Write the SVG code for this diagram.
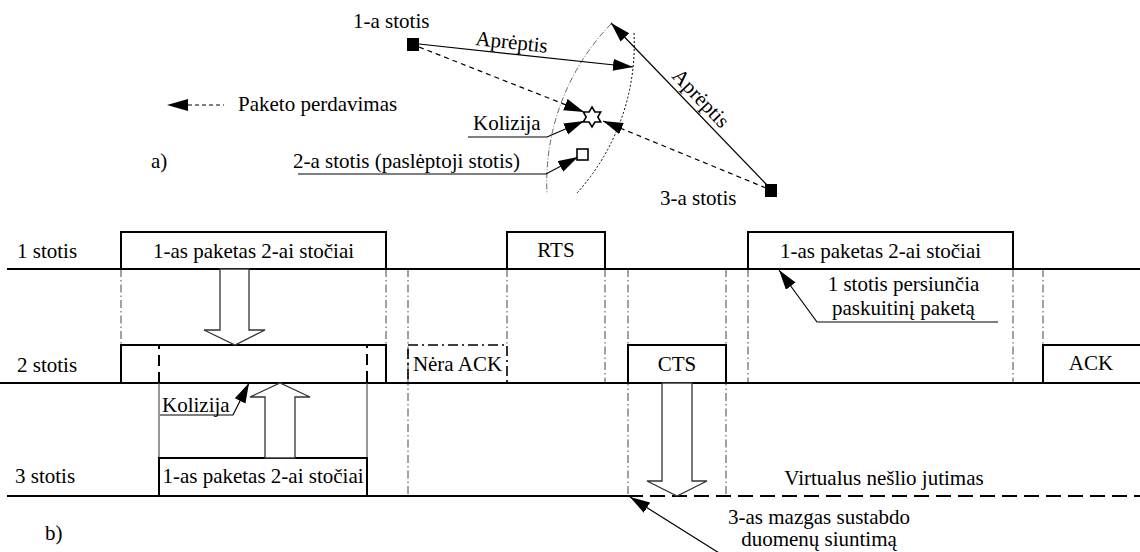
<svg xmlns="http://www.w3.org/2000/svg" width="1140" height="552" viewBox="0 0 1140 552">
  <style>
    .t { font-family: "Liberation Serif", "Times New Roman", serif; font-size: 21px; fill: #000; }
    .tm { text-anchor: middle; }
    .axis { stroke: #000; stroke-width: 2.2; fill: none; }
    .box { stroke: #000; stroke-width: 2; fill: none; }
    .guide { stroke: #444; stroke-width: 1; stroke-dasharray: 8 3 1.5 3; fill: none; }
    .thin { stroke: #000; stroke-width: 1.2; fill: none; }
    .dash { stroke: #000; stroke-width: 1.2; stroke-dasharray: 5 4; fill: none; }
    .hollow { fill: #fff; stroke: #333; stroke-width: 1.3; }
    .arrowTip { stroke: #000; stroke-width: 1.2; fill: none; marker-end: url(#head); }
  </style>
  <defs>
    <marker id="head" markerUnits="userSpaceOnUse" markerWidth="22" markerHeight="14" refX="20" refY="6" orient="auto">
      <path d="M0,0 L20,6 L0,12 z" fill="#000"/>
    </marker>
  </defs>

  <rect width="1140" height="552" fill="#fff"/>

  <!-- Part a): stations and coverage ranges -->
  <g id="range-arcs">
    <path d="M611,24 A228,228 0 0,0 547,194" fill="none" stroke="#555" stroke-width="0.9" stroke-dasharray="6 2 1 2"/>
    <path d="M634,33 A222,222 0 0,1 577,193" fill="none" stroke="#000" stroke-width="1" stroke-dasharray="2 2"/>
  </g>

  <g id="connectors">
    <!-- coverage of station 1 -->
    <line class="arrowTip" x1="419" y1="44" x2="633" y2="67"/>
    <!-- coverage of station 3 -->
    <line class="arrowTip" x1="768" y1="186" x2="611" y2="23"/>
    <!-- packet transmissions meeting at the collision -->
    <line class="dash" x1="419" y1="47" x2="584" y2="112" marker-end="url(#head)"/>
    <line class="dash" x1="766" y1="188" x2="603" y2="121" marker-end="url(#head)"/>
    <!-- label leaders -->
    <polyline class="arrowTip" points="468,137 547,137 584,121"/>
    <polyline class="arrowTip" points="298,174 546,174 578,157"/>

    <!-- Part b): collision and notes -->
    <polyline class="arrowTip" points="160,415 233,415 249,383"/>
    <polyline class="arrowTip" points="998,322 817,322 779,270"/>
    <line class="arrowTip" x1="735" y1="563" x2="630" y2="497"/>
  </g>

  <g id="station1">
    <rect x="407" y="38" width="12" height="13" fill="#000"/>
    <text class="t" x="353" y="28">1-a stotis</text>
  </g>
  <g id="station2">
    <rect x="577" y="149" width="11" height="11" fill="#fff" stroke="#000" stroke-width="1.6"/>
    <text class="t" x="293" y="168">2-a stotis (paslėptoji stotis)</text>
  </g>
  <g id="station3">
    <rect x="765" y="184" width="12" height="13" fill="#000"/>
    <text class="t" x="660" y="205">3-a stotis</text>
  </g>
  <g id="collision">
    <polygon transform="translate(592,117)" points="0,-10 2.9,-5 8.7,-5 5.8,0 8.7,5 2.9,5 0,10 -2.9,5 -8.7,5 -5.8,0 -8.7,-5 -2.9,-5" fill="#fff" stroke="#000" stroke-width="1.6"/>
    <text class="t" x="473" y="130">Kolizija</text>
  </g>
  <g id="range-labels">
    <text class="t" x="475" y="45" transform="rotate(6.2 475 45)">Aprėptis</text>
    <text class="t tm" x="696" y="103" transform="rotate(46.4 696 103)">Aprėptis</text>
  </g>
  <g id="legend">
    <polygon points="167,105 188,99 188,111" fill="#000"/>
    <line x1="188" y1="105" x2="224" y2="105" stroke="#000" stroke-width="1.2" stroke-dasharray="4 3"/>
    <text class="t" x="238" y="111">Paketo perdavimas</text>
  </g>
  <text class="t" x="151" y="168">a)</text>

  <!-- Part b): timelines -->
  <g id="guides">
    <line class="guide" x1="121" y1="269" x2="121" y2="345"/>
    <line class="guide" x1="386" y1="269" x2="386" y2="345"/>
    <line class="guide" x1="408" y1="269" x2="408" y2="496"/>
    <line class="guide" x1="507" y1="269" x2="507" y2="345"/>
    <line class="guide" x1="605" y1="269" x2="605" y2="383"/>
    <line class="guide" x1="628" y1="269" x2="628" y2="496"/>
    <line class="guide" x1="726" y1="269" x2="726" y2="496"/>
    <line class="guide" x1="748" y1="269" x2="748" y2="383"/>
    <line class="guide" x1="1013" y1="269" x2="1013" y2="383"/>
    <line class="guide" x1="1043" y1="269" x2="1043" y2="345"/>
  </g>

  <g id="row1">
    <line class="axis" x1="7" y1="269" x2="1140" y2="269"/>
    <text class="t" x="17" y="258">1 stotis</text>
    <path class="box" d="M121,269 V232 H386 V269"/>
    <text class="t tm" x="253.5" y="258">1-as paketas 2-ai stočiai</text>
    <path class="box" d="M507,269 V232 H605 V269"/>
    <text class="t tm" x="556" y="257">RTS</text>
    <path class="box" d="M748,269 V232 H1013 V269"/>
    <text class="t tm" x="880.5" y="258">1-as paketas 2-ai stočiai</text>
  </g>

  <g id="row2">
    <line class="axis" x1="0" y1="383" x2="1140" y2="383"/>
    <text class="t" x="17" y="372">2 stotis</text>
    <path class="box" d="M121,383 V345 H386 V383"/>
    <path d="M159,383 V345 H367 V383" fill="none" stroke="#000" stroke-width="2" stroke-dasharray="11 6"/>
    <rect x="408" y="345" width="99" height="38" fill="none" stroke="#000" stroke-width="1.6" stroke-dasharray="10 4 2 4"/>
    <text class="t tm" x="457.5" y="371">Nėra ACK</text>
    <path class="box" d="M628,383 V345 H726 V383"/>
    <text class="t tm" x="677" y="371">CTS</text>
    <path class="box" d="M1043,383 V345 H1142"/>
    <text class="t tm" x="1091" y="370">ACK</text>
  </g>

  <g id="row3">
    <line class="axis" x1="7" y1="496" x2="628" y2="496"/>
    <line x1="628" y1="496" x2="1140" y2="496" stroke="#000" stroke-width="2.2" stroke-dasharray="15 7"/>
    <text class="t" x="15" y="483">3 stotis</text>
    <line x1="159" y1="383" x2="159" y2="458" stroke="#444" stroke-width="1.1"/>
    <line x1="367" y1="383" x2="367" y2="458" stroke="#444" stroke-width="1.1"/>
    <path class="box" d="M159,496 V458 H367 V496"/>
    <text class="t tm" x="263" y="483">1-as paketas 2-ai stočiai</text>
    <text class="t tm" x="884" y="485">Virtualus nešlio jutimas</text>
  </g>

  <g id="signal-arrows">
    <polygon class="hollow" points="220,269 249,269 249,330 265,330 235,345 204,330 220,330"/>
    <polygon class="hollow" points="265,458 265,397 250,397 280,383 310,397 295,397 295,458"/>
    <polygon class="hollow" points="662,383 692,383 692,481 707,481 677,496 647,481 662,481"/>
  </g>

  <g id="notes">
    <text class="t" x="162" y="412">Kolizija</text>
    <text class="t tm" x="903.5" y="291">1 stotis persiunčia</text>
    <text class="t tm" x="903.5" y="315">paskuitinį paketą</text>
    <text class="t tm" x="819" y="524">3-as mazgas sustabdo</text>
    <text class="t tm" x="819" y="546">duomenų siuntimą</text>
    <text class="t" x="45" y="540">b)</text>
  </g>
</svg>
